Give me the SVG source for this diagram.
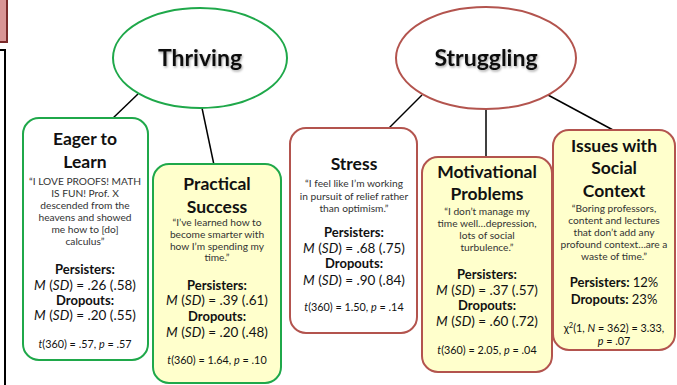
<svg xmlns="http://www.w3.org/2000/svg" width="677" height="385" viewBox="0 0 677 385">
<defs>
<filter id="sh" x="-10%" y="-10%" width="130%" height="140%">
<feDropShadow dx="1" dy="1.5" stdDeviation="1" flood-color="#000" flood-opacity="0.35"/>
</filter>
</defs>
<style>
text{font-family:Lato,"Open Sans","Liberation Sans",sans-serif;fill:#111;text-anchor:middle}
.ttl{font-size:23px;font-weight:bold}
.h{font-size:17.5px;font-weight:bold}
.q{font-size:10.2px;fill:#333}
.b{font-size:13px;font-weight:bold}
.m{font-size:13.5px}
.t{font-size:10.8px}
.g{stroke:#1fa84a;stroke-width:2}
.r{stroke:#b3544e;stroke-width:2}
.w{fill:#fff}
.y{fill:#ffffcc}
.c{stroke:#000;stroke-width:1.5;fill:none}
</style>
<rect x="-2" y="-2" width="9" height="44" fill="#d99595" stroke="#7a2a2a" stroke-width="2"/>
<rect x="-5" y="50" width="10" height="345" fill="#fff" stroke="#000" stroke-width="2"/>
<g id="connectors">
<line class="c" x1="138" y1="94" x2="112" y2="119"/>
<line class="c" x1="202" y1="108" x2="214" y2="165"/>
<line class="c" x1="422" y1="95" x2="388" y2="129"/>
<line class="c" x1="486" y1="110" x2="486" y2="158"/>
<line class="c" x1="548" y1="95" x2="613" y2="130"/>
</g>
<g id="thriving">
<ellipse cx="200" cy="58" rx="87" ry="50" class="g w"/>
<text x="200" y="66" class="ttl" filter="url(#sh)">Thriving</text>
</g>
<g id="struggling">
<ellipse cx="486" cy="58" rx="90" ry="51" class="r w"/>
<text x="486" y="66" class="ttl" filter="url(#sh)">Struggling</text>
</g>
<g id="eager">
<rect x="23" y="118" width="125" height="242" rx="16" class="g w"/>
<text x="85" y="145" class="h">Eager to</text>
<text x="85" y="168" class="h">Learn</text>
<text x="85" y="184.5" class="q">“I LOVE PROOFS! MATH</text>
<text x="85" y="196.5" class="q">IS FUN! Prof. X</text>
<text x="85" y="209" class="q">descended from the</text>
<text x="85" y="221" class="q">heavens and showed</text>
<text x="85" y="233" class="q">me how to [do]</text>
<text x="85" y="245" class="q">calculus”</text>
<text x="85" y="274" class="b">Persisters:</text>
<text x="85" y="290" class="m"><tspan font-style="italic">M</tspan> (<tspan font-style="italic">SD</tspan>) = .26 (.58)</text>
<text x="85" y="305" class="b">Dropouts:</text>
<text x="85" y="320" class="m"><tspan font-style="italic">M</tspan> (<tspan font-style="italic">SD</tspan>) = .20 (.55)</text>
<text x="85" y="348" class="t"><tspan font-style="italic">t</tspan>(360) = .57, <tspan font-style="italic">p</tspan> = .57</text>
</g>
<g id="practical">
<rect x="153" y="164" width="128" height="219" rx="16" class="g y"/>
<text x="217" y="190" class="h">Practical</text>
<text x="217" y="213" class="h">Success</text>
<text x="217" y="225.5" class="q">“I’ve learned how to</text>
<text x="217" y="237.5" class="q">become smarter with</text>
<text x="217" y="249.5" class="q">how I’m spending my</text>
<text x="217" y="261" class="q">time.”</text>
<text x="217" y="290" class="b">Persisters:</text>
<text x="217" y="305" class="m"><tspan font-style="italic">M</tspan> (<tspan font-style="italic">SD</tspan>) = .39 (.61)</text>
<text x="217" y="321" class="b">Dropouts:</text>
<text x="217" y="337" class="m"><tspan font-style="italic">M</tspan> (<tspan font-style="italic">SD</tspan>) = .20 (.48)</text>
<text x="217" y="364" class="t"><tspan font-style="italic">t</tspan>(360) = 1.64, <tspan font-style="italic">p</tspan> = .10</text>
</g>
<g id="stress">
<rect x="290" y="128" width="127" height="205" rx="16" class="r w"/>
<text x="354" y="170" class="h">Stress</text>
<text x="354" y="186.5" class="q">“I feel like I’m working</text>
<text x="354" y="199.5" class="q">in pursuit of relief rather</text>
<text x="354" y="211.5" class="q">than optimism.”</text>
<text x="354" y="237" class="b">Persisters:</text>
<text x="354" y="253" class="m"><tspan font-style="italic">M</tspan> (<tspan font-style="italic">SD</tspan>) = .68 (.75)</text>
<text x="354" y="268" class="b">Dropouts:</text>
<text x="354" y="285" class="m"><tspan font-style="italic">M</tspan> (<tspan font-style="italic">SD</tspan>) = .90 (.84)</text>
<text x="354" y="311" class="t"><tspan font-style="italic">t</tspan>(360) = 1.50, <tspan font-style="italic">p</tspan> = .14</text>
</g>
<g id="motivational">
<rect x="422" y="157" width="130" height="215" rx="16" class="r y"/>
<text x="487" y="178" class="h">Motivational</text>
<text x="487" y="200" class="h">Problems</text>
<text x="487" y="214.5" class="q">“I don’t manage my</text>
<text x="487" y="226.5" class="q">time well…depression,</text>
<text x="487" y="238.5" class="q">lots of social</text>
<text x="487" y="250.5" class="q">turbulence.”</text>
<text x="487" y="279" class="b">Persisters:</text>
<text x="487" y="295" class="m"><tspan font-style="italic">M</tspan> (<tspan font-style="italic">SD</tspan>) = .37 (.57)</text>
<text x="487" y="310" class="b">Dropouts:</text>
<text x="487" y="326" class="m"><tspan font-style="italic">M</tspan> (<tspan font-style="italic">SD</tspan>) = .60 (.72)</text>
<text x="487" y="354" class="t"><tspan font-style="italic">t</tspan>(360) = 2.05, <tspan font-style="italic">p</tspan> = .04</text>
</g>
<g id="issues">
<rect x="553" y="130" width="122" height="220" rx="16" class="r y"/>
<text x="614" y="152" class="h">Issues with</text>
<text x="614" y="174" class="h">Social</text>
<text x="614" y="197" class="h">Context</text>
<text x="614" y="211.5" class="q">“Boring professors,</text>
<text x="614" y="223.5" class="q">content and lectures</text>
<text x="614" y="235.5" class="q">that don’t add any</text>
<text x="614" y="247.5" class="q">profound context…are a</text>
<text x="614" y="259.5" class="q">waste of time.”</text>
<text x="614" y="287" class="b">Persisters: <tspan font-weight="normal">12%</tspan></text>
<text x="614" y="304" class="b">Dropouts: <tspan font-weight="normal">23%</tspan></text>
<text x="614" y="332" class="t">χ<tspan font-size="7.5" dy="-4">2</tspan><tspan dy="4">(1, </tspan><tspan font-style="italic">N</tspan> = 362) = 3.33,</text>
<text x="614" y="345" class="t"><tspan font-style="italic">p</tspan> = .07</text>
</g>
</svg>
